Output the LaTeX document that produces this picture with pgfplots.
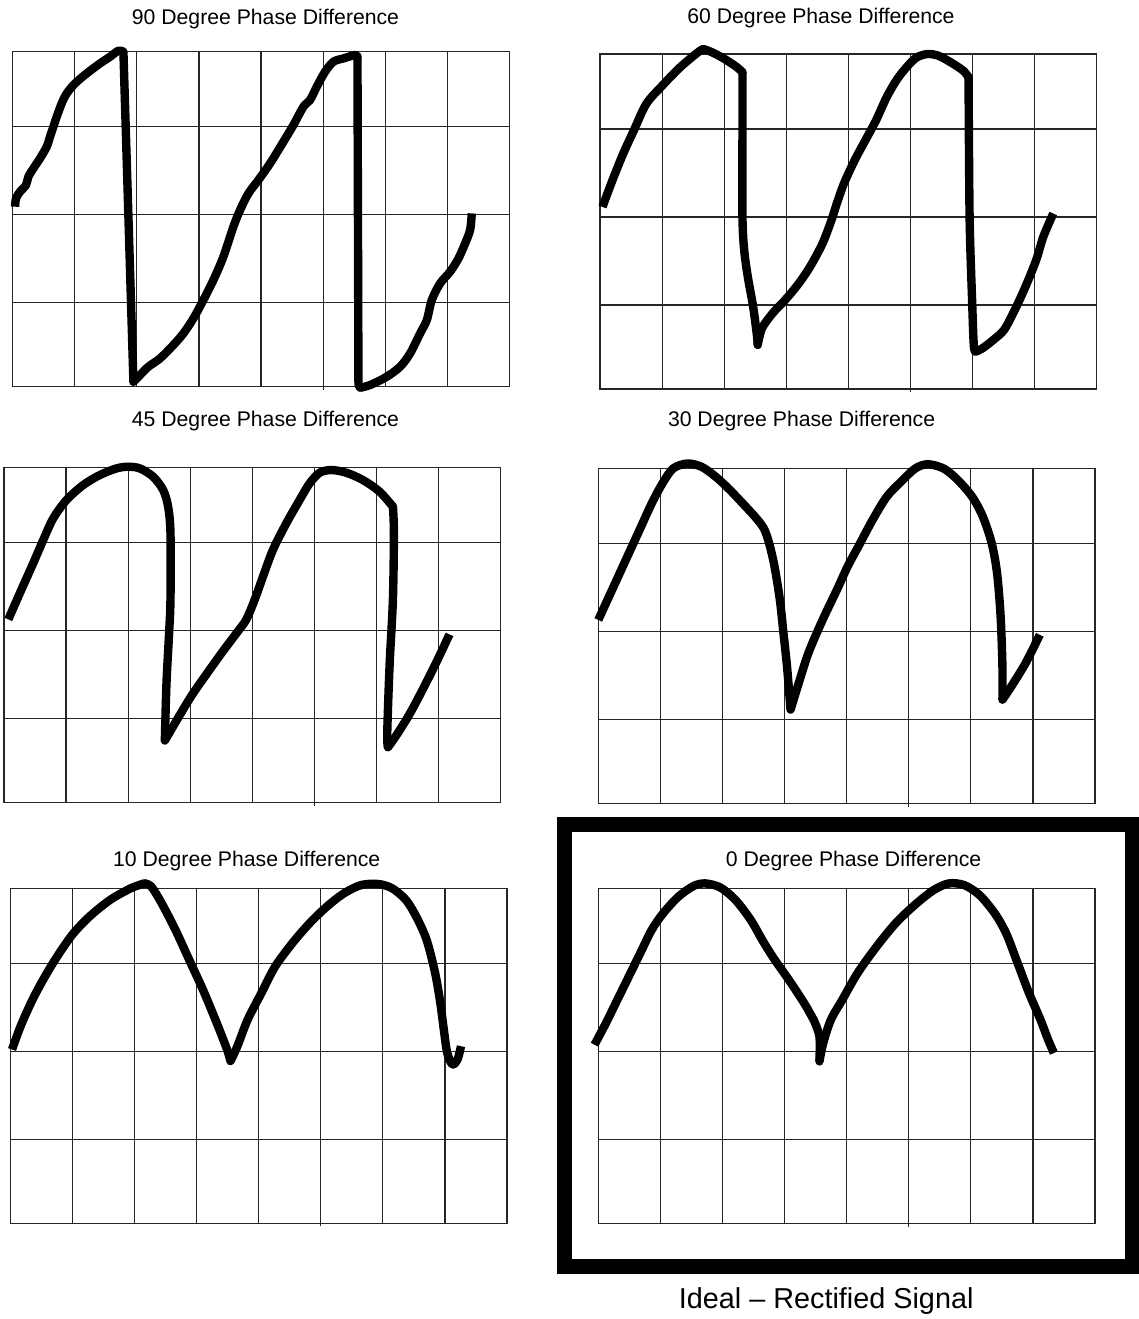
\documentclass[border=0pt]{standalone}
\usepackage{fontspec}
\setmainfont{Liberation Sans}
\usepackage{pgfplots}
\pgfplotsset{compat=1.18}

% One oscilloscope screen: 8 x 4 divisions, y in screen units (0..335)
\pgfplotsset{
  scopegrid/.style={
    width=248.4pt, height=167.5pt, scale only axis,
    xmin=0, xmax=8, ymin=0, ymax=335,
    xtick={0,...,8}, ytick={0,84,172,260,335},
    xticklabels={}, yticklabels={},
    major tick length=0pt,
    grid=major,
    major grid style={line width=0.6pt, black!85},
    axis line style={line width=0.6pt, black!85},
    clip=false,
    anchor=north west,
    execute at end axis={\draw[line width=0.6pt, black!85] (axis cs:5,-3) -- (axis cs:5,0);},
  },
  % trace pieces: "end" pieces have flat ends, "mid" pieces round off the joints
  trace/.style={line width=4.2pt, black, line join=round, mark=none, smooth, tension=0.5},
  end/.style={trace, line cap=butt},
  mid/.style={trace, line cap=round},
  straight/.style={trace, line cap=round, sharp plot},
}
\newcommand{\scopetitle}[3]{\node[anchor=base, inner sep=0pt, font=\fontsize{10.6pt}{12pt}\selectfont] at (#1*0.5pt,-#2*0.5pt) {#3};}

\begin{document}
\begin{tikzpicture}
\path[use as bounding box] (0,0) rectangle (569.5pt,-659.5pt);

% ---------------- 90 degrees ----------------
\scopetitle{265.5}{24.3}{90 Degree Phase Difference}
\begin{axis}[scopegrid, at={(12.7*0.5pt,-51.7*0.5pt)}]
\addplot[end] coordinates {
(0.038,180) (0.054,188.3) (0.118,195) (0.215,201.7) (0.252,210) (0.333,218.3)
(0.44,228.3) (0.548,240) (0.601,250) (0.655,260) (0.709,270) (0.789,283.3)
(0.870,293.3) (1.004,303.3) (1.192,313.3) (1.407,323.3) (1.568,330) (1.702,336)
(1.783,335)};
\addplot[straight] coordinates {(1.783,335) (1.944,5)};
\addplot[mid] coordinates {
(1.944,5) (2.051,11.7) (2.185,20) (2.373,28.3) (2.588,41.7)
(2.749,53.3) (2.910,68.3) (3.071,86.7) (3.232,106.7) (3.393,130) (3.554,160)
(3.662,176.7) (3.796,193.3) (3.957,206.7) (4.145,223.3) (4.360,245) (4.521,261.7)
(4.682,280) (4.789,286.7) (4.897,300) (5.031,315) (5.165,325) (5.326,328.3)
(5.514,331.7) (5.552,330)};
\addplot[straight] coordinates {(5.552,330) (5.568,2) (5.595,-1)};
\addplot[end] coordinates {
(5.595,-1) (5.756,1.7) (6.024,10)
(6.239,20) (6.4,33.3) (6.561,53.3) (6.669,66.7) (6.749,86.7) (6.883,103.3)
(7.044,115) (7.179,128.3) (7.286,143.3) (7.366,156.7) (7.393,173.3)};
\end{axis}

% ---------------- 60 degrees ----------------
\scopetitle{821}{23.3}{60 Degree Phase Difference}
\begin{axis}[scopegrid, at={(600*0.5pt,-54*0.5pt)}]
\addplot[end] coordinates {
(0.04,182.1) (0.2,208.7) (0.373,235.3) (0.545,258.6) (0.745,285.1) (1.003,303.4)
(1.29,321.7) (1.577,336.7) (1.663,340)};
\addplot[mid] coordinates {(1.663,340) (1.806,336.7) (2.007,330) (2.208,321.7) (2.294,316.7)};
\addplot[mid] coordinates {
(2.294,316.7) (2.294,255.2) (2.294,172.1) (2.322,138.9) (2.38,112.3) (2.466,82.4)
(2.523,55.8) (2.54,44.2)};
\addplot[mid] coordinates {
(2.54,44.2) (2.609,60.8) (2.781,75.8) (2.982,89.1) (3.182,104)
(3.383,122.3) (3.584,145.6) (3.727,168.8) (3.813,185.4) (3.928,205.4) (4.1,228.6)
(4.272,248.6) (4.444,268.5) (4.616,291.8) (4.788,310.1) (4.96,323.4) (5.103,331.7)
(5.275,335) (5.447,333.3) (5.648,326.7) (5.849,318.4) (5.935,311.7)};
\addplot[mid] coordinates {(5.935,311.7) (5.952,172.1) (5.992,89.1) (6.021,42.5) (6.061,37.6)};
\addplot[end] coordinates {
(6.061,37.6) (6.164,40.9) (6.336,49.2) (6.508,59.2)
(6.68,79.1) (6.852,102.4) (7.024,128.9) (7.139,152.2) (7.299,175.5)};
\end{axis}

% ---------------- 45 degrees ----------------
\scopetitle{265.5}{426.5}{45 Degree Phase Difference}
\begin{axis}[scopegrid, at={(4*0.5pt,-467.7*0.5pt)}]
\addplot[end] coordinates {
(0.07,183.3) (0.257,209.8) (0.472,239.7) (0.633,262.9) (0.794,284.5) (1.008,302.8)
(1.276,317.7) (1.544,327.7) (1.812,334.3) (2.0,336) (2.188,334.3) (2.402,326)
(2.563,312.7) (2.643,296.1) (2.681,269.6) (2.681,203.2) (2.659,170) (2.617,120.2)
(2.59,62.1)};
\addplot[mid] coordinates {
(2.59,62.1) (2.777,82) (3.019,106.9) (3.26,128.5) (3.528,151.7) (3.769,171.6)
(3.903,183.3) (4.038,203.2) (4.172,226.4) (4.332,253) (4.547,279.5) (4.761,302.8)
(4.922,319.4) (5.083,330) (5.271,332.7) (5.512,330) (5.780,322.7) (6.048,311.1)
(6.263,296.1)};
\addplot[mid] coordinates {(6.263,296.1) (6.279,269.6) (6.263,203.2) (6.209,136.8) (6.172,70.4) (6.182,55.4)};
\addplot[end] coordinates {
(6.182,55.4) (6.316,67.1) (6.531,88.6) (6.745,113.5) (6.96,140.1) (7.174,168.3)};
\end{axis}

% ---------------- 30 degrees ----------------
\scopetitle{801.6}{426}{30 Degree Phase Difference}
\begin{axis}[scopegrid, at={(598.3*0.5pt,-468.5*0.5pt)}]
\addplot[end] coordinates {
(0,183.6) (0.172,206.9) (0.344,230.2) (0.516,253.5) (0.688,276.8) (0.86,300.1)
(1.032,320) (1.204,335) (1.433,340) (1.663,336.7) (1.892,326.7) (2.122,313.4)
(2.351,298.4) (2.523,286.8) (2.666,275.1) (2.752,260.1) (2.838,236.9) (2.924,203.6)
(2.982,170.3) (3.039,137.1) (3.096,93.8)};
\addplot[mid] coordinates {
(3.096,93.8) (3.211,117.1) (3.383,150.4) (3.612,183.6)
(3.842,213.6) (4.014,236.9) (4.186,256.8) (4.415,283.4) (4.644,306.7) (4.874,321.7)
(5.103,335) (5.304,339.3) (5.562,335) (5.791,323.4) (6.021,306.7) (6.193,286.8)
(6.336,260.1) (6.422,230.2) (6.479,187) (6.508,137.1) (6.508,103.8)};
\addplot[end] coordinates {(6.508,103.8) (6.651,117.1) (6.881,140.4) (7.11,168.7)};
\end{axis}

% ---------------- 10 degrees ----------------
\scopetitle{246.7}{866}{10 Degree Phase Difference}
\begin{axis}[scopegrid, at={(10.3*0.5pt,-888.3*0.5pt)}]
\addplot[end] coordinates {
(0.028,173.8) (0.166,197.1) (0.332,220.3) (0.499,240.3) (0.72,263.5) (0.997,288.5)
(1.274,306.7) (1.607,323.4) (1.939,335) (2.161,340)};
\addplot[mid] coordinates {
(2.161,340) (2.271,336.7) (2.438,320)
(2.659,293.5) (2.881,263.5) (3.102,233.6) (3.324,200.4) (3.490,173.8) (3.546,162.2)};
\addplot[end] coordinates {
(3.546,162.2) (3.657,177.1) (3.823,203.7) (4.044,230.3) (4.266,256.9) (4.543,280.2) (4.820,300.1)
(5.097,316.7) (5.374,330) (5.651,338.3) (5.928,339.3) (6.15,335) (6.371,323.4)
(6.537,306.7) (6.704,283.5) (6.842,250.2) (6.925,220.3) (6.981,193.8) (7.036,170.5)
(7.119,158.9) (7.202,163.8) (7.258,177.1)};
\end{axis}

% ---------------- 0 degrees (ideal) ----------------
\draw[line width=7.5pt] (564.8*0.5pt,-824.2*0.5pt) rectangle (1132.3*0.5pt,-1266.5*0.5pt);
\scopetitle{853.6}{866.7}{0 Degree Phase Difference}
\begin{axis}[scopegrid, at={(598.3*0.5pt,-888.7*0.5pt)}]
\addplot[end] coordinates {
(-0.061,179) (0.123,200.6) (0.307,223.9) (0.491,247.2) (0.675,270.5) (0.859,293.7)
(1.044,310.4) (1.289,327) (1.535,337.7) (1.719,340.3) (1.964,336.3) (2.21,323.7)
(2.456,303.7) (2.64,283.8) (2.824,265.5) (3.069,243.8) (3.315,220.6) (3.468,203.9)};
\addplot[mid] coordinates {(3.468,203.9) (3.561,187.3) (3.561,162.3)};
\addplot[end] coordinates {
(3.561,162.3) (3.622,180.6) (3.745,203.9) (3.929,223.9) (4.174,250.5)
(4.481,277.1) (4.788,300.4) (5.095,318.7) (5.402,333.7) (5.648,340.3) (5.893,338.6)
(6.139,328.7) (6.384,310.4) (6.568,290.4) (6.753,260.5) (6.937,230.5) (7.121,203.9)
(7.244,184) (7.336,170.7)};
\end{axis}
\node[anchor=base, inner sep=0pt, font=\fontsize{14.4pt}{17pt}\selectfont] at (826.2*0.5pt,-1308.3*0.5pt) {Ideal -- Rectified Signal};
\end{tikzpicture}
\end{document}
